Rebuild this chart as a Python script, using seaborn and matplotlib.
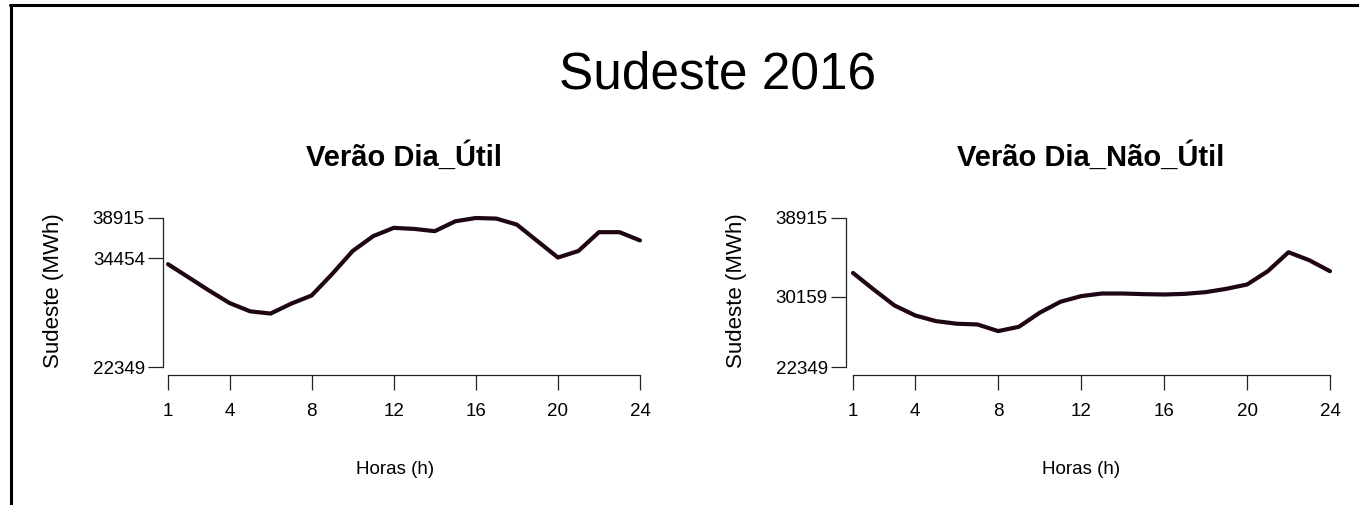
import numpy as np
import pandas as pd
import seaborn as sns
import matplotlib.pyplot as plt
from matplotlib.lines import Line2D

# hourly load, Sudeste 2016, summer
horas = list(range(1, 25))
util = [33780, 32320, 30850, 29460, 28540, 28290, 29390, 30300, 32690, 35250, 36900, 37820,
        37700, 37450, 38550, 38915, 38850, 38180, 36350, 34520, 35250, 37340, 37340, 36420]
nao_util = [32810, 30960, 29190, 28080, 27450, 27160, 27080, 26340, 26820, 28380, 29600, 30230,
            30520, 30520, 30450, 30410, 30480, 30670, 31040, 31520, 33000, 35110, 34220, 33000]
painel_titulos = ['Verão Dia_Útil', 'Verão Dia_Não_Útil']
x_ticks = [1, 4, 8, 12, 16, 20, 24]
y_ticks = [[22349, 34454, 38915], [22349, 30159, 38915]]
y_min, y_max = 22349, 38915

sns.set_style('white')
plt.rcParams['font.family'] = ['Liberation Sans', 'DejaVu Sans']
plt.rcParams['text.color'] = 'black'

fig = plt.figure(figsize=(13.59, 5.05), dpi=100)
W, H = 1359, 505

def px(x, y):
    return x / W, 1 - y / H

# axes boxes in pixels: left, top, right, bottom
caixas = [(163, 210, 645, 375), (846, 210, 1335, 375)]
pos_x1 = [(168, 640), (853, 1330)]

for i, serie in enumerate([util, nao_util]):
    l, t, r, b = caixas[i]
    ax = fig.add_axes([l / W, (H - b) / H, (r - l) / W, (b - t) / H])
    df = pd.DataFrame({'hora': horas, 'carga': serie})
    sns.lineplot(data=df, x='hora', y='carga', ax=ax, color='#1e0614', linewidth=3.0)

    # limits so that ticks land on the same pixels as the reference
    a, z = pos_x1[i]
    upp = 23 / (z - a)
    ax.set_xlim(1 - (a - l) * upp, 24 + (r - z) * upp)
    vpp = (y_max - y_min) / (367 - 218)
    ax.set_ylim(y_min - (b - 367) * vpp, y_max + (218 - t) * vpp)

    ax.set_xticks(x_ticks)
    ax.set_yticks(y_ticks[i])
    ax.set_xticklabels([str(v) for v in x_ticks], fontsize=13.5)
    ax.set_yticklabels([str(v) for v in y_ticks[i]], fontsize=13.5)
    ax.tick_params(bottom=True, left=True, direction='out', length=11, width=0.9,
                   color='#222222', labelcolor='black')
    ax.tick_params(axis='x', pad=9)
    ax.tick_params(axis='y', pad=2)
    ax.set_xlabel('')
    ax.set_ylabel('')
    for s in ['top', 'right']:
        ax.spines[s].set_visible(False)
    for s in ['left', 'bottom']:
        ax.spines[s].set_color('#222222')
        ax.spines[s].set_linewidth(0.9)
    ax.spines['left'].set_bounds(y_min, y_max)
    ax.spines['bottom'].set_bounds(1, 24)
    ax.set_facecolor('none')

    cx = (l + r) / 2
    fig.text(*px(cx, 157), painel_titulos[i], ha='center', va='center', fontsize=21, fontweight='bold')
    fig.text(*px(cx - 9, 470), 'Horas (h)', ha='center', va='center', fontsize=13.5)
    fig.text(*px(l - 109, 291), 'Sudeste (MWh)', ha='center', va='center', fontsize=16, rotation=90)

fig.text(*px(718, 75), 'Sudeste 2016', ha='center', va='center', fontsize=37)

# frame lines at top and left of the picture
fig.add_artist(Line2D([10 / W, 1], [1 - 4.5 / H, 1 - 4.5 / H], color='black', linewidth=2.2))
fig.add_artist(Line2D([11 / W, 11 / W], [0, 1 - 4.5 / H], color='black', linewidth=2.2))

plt.savefig('out.png', dpi=100)
plt.close()
